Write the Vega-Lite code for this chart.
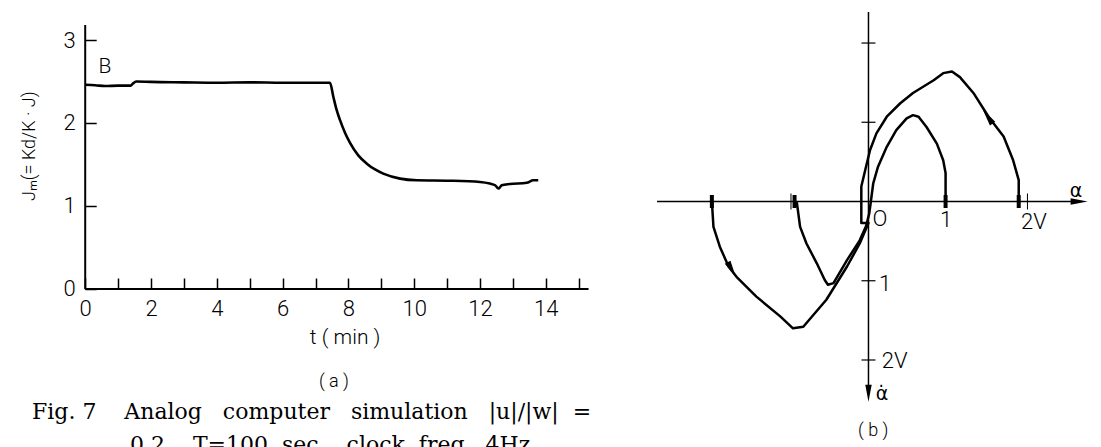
{
  "$schema": "https://vega.github.io/schema/vega-lite/v6.json",
  "width": 1101,
  "height": 447,
  "autosize": "none",
  "padding": 0,
  "background": "white",
  "config": {"view": {"stroke": null}},
  "resolve": {"scale": {"x": "independent", "y": "independent"}},
  "layer": [
    {
      "encoding": {
        "x": {"field": "t", "type": "quantitative",
          "scale": {"domain": [-2.590, 30.876], "nice": false, "zero": false},
          "axis": {"orient": "bottom", "offset": -158, "domain": false, "grid": false, "title": null,
            "values": [0,1,2,3,4,5,6,7,8,9,10,11,12,13,14,15],
            "labelExpr": "datum.value % 2 == 0 ? datum.label : ''",
            "tickSize": -11, "tickWidth": 1.5, "tickColor": "black",
            "labelPadding": 20, "labelFont": "Roboto", "labelFontWeight": 300, "labelFontSize": 22,
            "labelColor": "black", "labelFlush": false, "labelOverlap": false, "labelBound": false}},
        "y": {"field": "J", "type": "quantitative",
          "scale": {"domain": [-1.904, 3.482], "nice": false, "zero": false},
          "axis": {"orient": "left", "offset": -85.2, "domain": false, "grid": false, "title": null,
            "values": [0,1,2,3],
            "tickSize": -11, "tickWidth": 1.5, "tickColor": "black",
            "labelPadding": 21, "labelFont": "Roboto", "labelFontWeight": 300, "labelFontSize": 22,
            "labelColor": "black", "labelFlush": false, "labelOverlap": false, "labelBound": false}}
      },
      "layer": [
        {
          "data": {"values": [
            {"t": 0, "J": 0, "t2": 0, "J2": 3.18},
            {"t": 0, "J": 0, "t2": 15.3, "J2": 0}
          ]},
          "mark": {"type": "rule", "color": "black", "strokeWidth": 2},
          "encoding": {"x2": {"field": "t2"}, "y2": {"field": "J2"}}
        },
        {
          "data": {"values": [
            {"t": 0, "J": 2.46}, {"t": 0.3, "J": 2.455}, {"t": 0.6, "J": 2.445}, {"t": 1.0, "J": 2.45},
            {"t": 1.38, "J": 2.45}, {"t": 1.45, "J": 2.475}, {"t": 1.55, "J": 2.5}, {"t": 2.0, "J": 2.495},
            {"t": 3.0, "J": 2.49}, {"t": 4.0, "J": 2.485}, {"t": 5.0, "J": 2.49}, {"t": 6.0, "J": 2.485},
            {"t": 7.0, "J": 2.485}, {"t": 7.44, "J": 2.485}, {"t": 7.54, "J": 2.32}, {"t": 7.64, "J": 2.16},
            {"t": 7.74, "J": 2.04}, {"t": 7.90, "J": 1.88}, {"t": 8.05, "J": 1.76}, {"t": 8.30, "J": 1.61},
            {"t": 8.56, "J": 1.51}, {"t": 8.81, "J": 1.44}, {"t": 9.06, "J": 1.39}, {"t": 9.57, "J": 1.33},
            {"t": 10.08, "J": 1.31}, {"t": 11.09, "J": 1.305}, {"t": 12.0, "J": 1.29}, {"t": 12.30, "J": 1.27},
            {"t": 12.46, "J": 1.25}, {"t": 12.56, "J": 1.21}, {"t": 12.66, "J": 1.25}, {"t": 12.91, "J": 1.265},
            {"t": 13.42, "J": 1.28}, {"t": 13.62, "J": 1.31}, {"t": 13.77, "J": 1.31}
          ]},
          "mark": {"type": "line", "color": "black", "strokeWidth": 2.6, "interpolate": "monotone"}
        },
        {
          "data": {"values": [
            {"t": 0.60, "J": 2.67, "text": "B"},
            {"t": 7.90, "J": -0.59, "text": "t ( min )"}
          ]},
          "mark": {"type": "text", "font": "Roboto", "fontWeight": 300, "fontSize": 21, "color": "black", "align": "center", "baseline": "middle"},
          "encoding": {"text": {"field": "text"}}
        },
        {
          "data": {"values": [
            {"t": 7.56, "J": -1.12, "text": "( a )"}
          ]},
          "mark": {"type": "text", "font": "Roboto", "fontWeight": 300, "fontSize": 18, "color": "black", "align": "center", "baseline": "middle"},
          "encoding": {"text": {"field": "text"}}
        },
        {
          "data": {"values": [
            {"t": -1.68, "J": 1.72, "text": "Jₘ(= Kd/K · J)"}
          ]},
          "mark": {"type": "text", "font": "Roboto", "fontWeight": 300, "fontSize": 18, "color": "black", "align": "center", "baseline": "middle", "angle": 270},
          "encoding": {"text": {"field": "text"}}
        },
        {
          "data": {"values": [
            {"t": -1.617, "J": -1.566, "text": "Fig.\u00a07\u00a0\u00a0\u00a0\u00a0Analog\u00a0\u00a0\u00a0computer\u00a0\u00a0\u00a0simulation\u00a0\u00a0\u00a0|u|/|w|\u00a0\u00a0="},
            {"t": 1.36, "J": -1.964, "text": "0.2,\u00a0\u00a0\u00a0T=100\u00a0\u00a0sec,\u00a0\u00a0\u00a0clock\u00a0\u00a0freq.\u00a0\u00a04Hz"}
          ]},
          "mark": {"type": "text", "font": "DejaVu Serif", "fontSize": 22, "color": "black", "align": "left", "baseline": "alphabetic"},
          "encoding": {"text": {"field": "text"}}
        }
      ]
    },
    {
      "encoding": {
        "x": {"field": "a", "type": "quantitative",
          "scale": {"domain": [-10.925, 2.925], "nice": false, "zero": false}, "axis": null},
        "y": {"field": "ad", "type": "quantitative",
          "scale": {"domain": [-2.543, 3.098], "nice": false, "zero": false, "reverse": true}, "axis": null}
      },
      "layer": [
        {
          "data": {"values": [
            {"a": -2.66, "ad": 0, "a2": 2.66, "ad2": 0},
            {"a": 0, "ad": -2.39, "a2": 0, "ad2": 2.38}
          ]},
          "mark": {"type": "rule", "color": "black", "strokeWidth": 1.5},
          "encoding": {"x2": {"field": "a2"}, "y2": {"field": "ad2"}}
        },
        {
          "data": {"values": [
            {"a": 0, "ad": -2}, {"a": 0, "ad": -1}, {"a": 0, "ad": 1}, {"a": 0, "ad": 2}
          ]},
          "mark": {"type": "tick", "orient": "horizontal", "size": 14, "thickness": 1.2, "color": "black", "opacity": 1}
        },
        {
          "data": {"values": [{"a": 2.0, "ad": 0}, {"a": -0.975, "ad": 0}]},
          "mark": {"type": "tick", "orient": "vertical", "size": 16, "thickness": 1, "color": "black", "opacity": 1}
        },
        {
          "data": {"values": [
            {"a": -1.97, "ad": 0}, {"a": -0.93, "ad": 0}, {"a": 0.97, "ad": 0}, {"a": 1.89, "ad": 0}
          ]},
          "mark": {"type": "tick", "orient": "vertical", "size": 13, "thickness": 4, "color": "black", "opacity": 1}
        },
        {
          "data": {"values": [
            {"curve": "outer", "i": 1, "a": 1.89, "ad": 0},
            {"curve": "outer", "i": 2, "a": 1.89, "ad": -0.27},
            {"curve": "outer", "i": 3, "a": 1.82, "ad": -0.52},
            {"curve": "outer", "i": 4, "a": 1.70, "ad": -0.82},
            {"curve": "outer", "i": 5, "a": 1.51, "ad": -1.07},
            {"curve": "outer", "i": 6, "a": 1.32, "ad": -1.37},
            {"curve": "outer", "i": 7, "a": 1.15, "ad": -1.57},
            {"curve": "outer", "i": 8, "a": 1.05, "ad": -1.64},
            {"curve": "outer", "i": 9, "a": 0.94, "ad": -1.62},
            {"curve": "outer", "i": 10, "a": 0.82, "ad": -1.53},
            {"curve": "outer", "i": 11, "a": 0.56, "ad": -1.37},
            {"curve": "outer", "i": 12, "a": 0.40, "ad": -1.24},
            {"curve": "outer", "i": 13, "a": 0.23, "ad": -1.07},
            {"curve": "outer", "i": 14, "a": 0.10, "ad": -0.86},
            {"curve": "outer", "i": 15, "a": 0.02, "ad": -0.65},
            {"curve": "outer", "i": 16, "a": -0.04, "ad": -0.40},
            {"curve": "outer", "i": 17, "a": -0.09, "ad": -0.19},
            {"curve": "outer", "i": 18, "a": -0.09, "ad": 0},
            {"curve": "outer", "i": 19, "a": -0.09, "ad": 0.27},
            {"curve": "outer", "i": 20, "a": 0.0, "ad": 0.27},
            {"curve": "outer", "i": 21, "a": -0.11, "ad": 0.53},
            {"curve": "outer", "i": 22, "a": -0.27, "ad": 0.82},
            {"curve": "outer", "i": 23, "a": -0.53, "ad": 1.24},
            {"curve": "outer", "i": 24, "a": -0.82, "ad": 1.58},
            {"curve": "outer", "i": 25, "a": -0.95, "ad": 1.60},
            {"curve": "outer", "i": 26, "a": -1.11, "ad": 1.45},
            {"curve": "outer", "i": 27, "a": -1.41, "ad": 1.20},
            {"curve": "outer", "i": 28, "a": -1.66, "ad": 0.95},
            {"curve": "outer", "i": 29, "a": -1.76, "ad": 0.82},
            {"curve": "outer", "i": 30, "a": -1.87, "ad": 0.57},
            {"curve": "outer", "i": 31, "a": -1.95, "ad": 0.32},
            {"curve": "outer", "i": 32, "a": -1.97, "ad": 0},
            {"curve": "inner", "i": 1, "a": 0.97, "ad": 0},
            {"curve": "inner", "i": 2, "a": 0.97, "ad": -0.36},
            {"curve": "inner", "i": 3, "a": 0.94, "ad": -0.52},
            {"curve": "inner", "i": 4, "a": 0.86, "ad": -0.73},
            {"curve": "inner", "i": 5, "a": 0.73, "ad": -0.94},
            {"curve": "inner", "i": 6, "a": 0.63, "ad": -1.07},
            {"curve": "inner", "i": 7, "a": 0.56, "ad": -1.09},
            {"curve": "inner", "i": 8, "a": 0.48, "ad": -1.05},
            {"curve": "inner", "i": 9, "a": 0.35, "ad": -0.90},
            {"curve": "inner", "i": 10, "a": 0.23, "ad": -0.69},
            {"curve": "inner", "i": 11, "a": 0.12, "ad": -0.44},
            {"curve": "inner", "i": 12, "a": 0.06, "ad": -0.23},
            {"curve": "inner", "i": 13, "a": 0.03, "ad": 0},
            {"curve": "inner", "i": 14, "a": 0.01, "ad": 0.15},
            {"curve": "inner", "i": 15, "a": -0.03, "ad": 0.31},
            {"curve": "inner", "i": 16, "a": -0.11, "ad": 0.49},
            {"curve": "inner", "i": 17, "a": -0.27, "ad": 0.74},
            {"curve": "inner", "i": 18, "a": -0.44, "ad": 1.03},
            {"curve": "inner", "i": 19, "a": -0.51, "ad": 1.05},
            {"curve": "inner", "i": 20, "a": -0.55, "ad": 0.99},
            {"curve": "inner", "i": 21, "a": -0.65, "ad": 0.78},
            {"curve": "inner", "i": 22, "a": -0.78, "ad": 0.53},
            {"curve": "inner", "i": 23, "a": -0.86, "ad": 0.32},
            {"curve": "inner", "i": 24, "a": -0.90, "ad": 0.02},
            {"curve": "inner", "i": 25, "a": -0.92, "ad": 0}
          ]},
          "mark": {"type": "line", "color": "black", "strokeWidth": 2.5, "strokeJoin": "round"},
          "encoding": {"detail": {"field": "curve"}, "order": {"field": "i", "type": "quantitative"}}
        },
        {
          "data": {"values": [
            {"a": 2.65, "ad": 0, "heading": 90},
            {"a": 0.0, "ad": 2.42, "heading": 180},
            {"a": 1.50, "ad": -1.07, "heading": 325},
            {"a": -1.72, "ad": 0.86, "heading": 151}
          ]},
          "mark": {"type": "point", "filled": true, "shape": "M0,-1L0.38,1L-0.38,1Z", "size": 289, "color": "black", "opacity": 1},
          "encoding": {"angle": {"field": "heading", "type": "quantitative", "scale": null}}
        },
        {
          "data": {"values": [
            {"a": 0.145, "ad": 0.22, "text": "O"},
            {"a": 0.975, "ad": 0.23, "text": "1"},
            {"a": 2.08, "ad": 0.26, "text": "2V"},
            {"a": 0.21, "ad": 1.04, "text": "1"},
            {"a": 0.33, "ad": 2.01, "text": "2V"}
          ]},
          "mark": {"type": "text", "font": "Roboto", "fontWeight": 300, "fontSize": 22, "color": "black", "align": "center", "baseline": "middle"},
          "encoding": {"text": {"field": "text"}}
        },
        {
          "data": {"values": [
            {"a": 2.61, "ad": -0.13, "text": "α"},
            {"a": 0.17, "ad": 2.43, "text": "α̇"}
          ]},
          "mark": {"type": "text", "font": "DejaVu Sans", "fontSize": 19, "color": "black", "align": "center", "baseline": "middle"},
          "encoding": {"text": {"field": "text"}}
        },
        {
          "data": {"values": [
            {"a": 0.06, "ad": 2.89, "text": "( b )"}
          ]},
          "mark": {"type": "text", "font": "Roboto", "fontWeight": 300, "fontSize": 18, "color": "black", "align": "center", "baseline": "middle"},
          "encoding": {"text": {"field": "text"}}
        }
      ]
    }
  ]
}
